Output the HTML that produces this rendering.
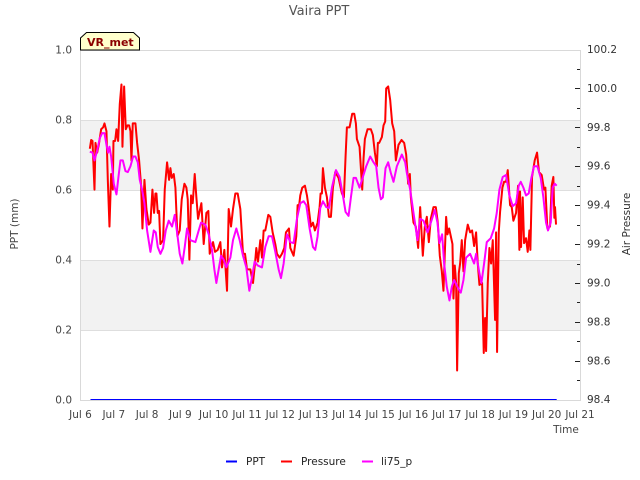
<!DOCTYPE html>
<html>
<head>
<meta charset="utf-8">
<title>Vaira PPT</title>
<style>
html,body{margin:0;padding:0;background:#fff;}
svg{display:block;}
text{font-family:"DejaVu Sans","Liberation Sans",sans-serif;}
</style>
</head>
<body>
<svg id="chart" width="640" height="480" viewBox="0 0 640 480" xmlns="http://www.w3.org/2000/svg">
<rect x="0" y="0" width="640" height="480" fill="#ffffff"/>
<text x="319" y="15" font-size="13" fill="#555555" text-anchor="middle">Vaira PPT</text>
<g id="bands"></g>
<g id="grid"></g>
<g id="axes"></g>
<g id="series"></g>
<path d="M80.5 50V38L86.5 32.5H133.5L139.5 38V50Z" fill="#ffffcc" stroke="#000000" stroke-width="1"/>
<text x="87" y="46" font-size="11" font-weight="bold" fill="#8b0000">VR_met</text>
<text x="0" y="0" transform="translate(18,224) rotate(-90)" font-size="10.5" fill="#444444" text-anchor="middle">PPT (mm)</text>
<text x="0" y="0" transform="translate(630,224) rotate(-90)" font-size="10.5" fill="#333333" text-anchor="middle">Air Pressure</text>
<text x="566" y="433" font-size="10.5" fill="#444444" text-anchor="middle">Time</text>
<g>
<line x1="226" y1="461.5" x2="237" y2="461.5" stroke="#0000ff" stroke-width="2"/>
<text x="246" y="465" font-size="10.5" fill="#222222">PPT</text>
<line x1="281" y1="461.5" x2="292" y2="461.5" stroke="#ff0000" stroke-width="2"/>
<text x="301" y="465" font-size="10.5" fill="#222222">Pressure</text>
<line x1="362" y1="461.5" x2="373" y2="461.5" stroke="#ff00ff" stroke-width="2"/>
<text x="381" y="465" font-size="10.5" fill="#222222">li75_p</text>
</g>
</svg>
<script>
const xTickLabels = ["Jul 6","Jul 7","Jul 8","Jul 9","Jul 10","Jul 11","Jul 12","Jul 13","Jul 14","Jul 15","Jul 16","Jul 17","Jul 18","Jul 19","Jul 20","Jul 21"];
const leftTicks = [0,0.2,0.4,0.6,0.8,1];
const leftTickLabels = ["0.0","0.2","0.4","0.6","0.8","1.0"];
const rightTicks = [98.4,98.6,98.8,99,99.2,99.4,99.6,99.8,100,100.2];
const rightTickLabels = ["98.4","98.6","98.8","99.0","99.2","99.4","99.6","99.8","100.0","100.2"];
const rightMinorTicks = [98.5,98.7,98.9,99.1,99.3,99.5,99.7,99.9,100.1];
const shadedBands = [[0.2,0.4],[0.6,0.8]];
const pptTimes = [0.3,14.3];
const pptValues = [0,0];
const pressureTimes = [0.28,0.32,0.36,0.42,0.45,0.5,0.55,0.62,0.68,0.72,0.78,0.82,0.87,0.92,0.97,0.99,1.04,1.08,1.13,1.18,1.23,1.26,1.31,1.36,1.41,1.46,1.5,1.53,1.57,1.65,1.7,1.76,1.82,1.86,1.92,1.98,2.05,2.1,2.16,2.21,2.25,2.28,2.32,2.36,2.4,2.48,2.53,2.6,2.66,2.7,2.74,2.8,2.85,2.91,2.98,3.04,3.12,3.18,3.22,3.27,3.32,3.37,3.43,3.48,3.53,3.58,3.63,3.7,3.78,3.84,3.88,3.98,4.04,4.12,4.2,4.25,4.32,4.4,4.45,4.52,4.58,4.65,4.72,4.8,4.88,4.94,5,5.1,5.18,5.24,5.28,5.33,5.4,5.45,5.5,5.55,5.64,5.7,5.77,5.85,5.9,5.98,6.05,6.12,6.17,6.26,6.3,6.4,6.48,6.52,6.56,6.6,6.66,6.74,6.8,6.85,6.92,6.98,7.04,7.12,7.18,7.21,7.25,7.28,7.34,7.4,7.46,7.52,7.58,7.65,7.75,7.85,7.91,7.96,8,8.08,8.16,8.22,8.27,8.3,8.38,8.46,8.5,8.54,8.62,8.72,8.78,8.84,8.9,8.93,8.97,9.05,9.1,9.15,9.18,9.24,9.3,9.36,9.42,9.47,9.55,9.64,9.72,9.78,9.84,9.89,9.92,10,10.07,10.14,10.2,10.28,10.34,10.4,10.46,10.52,10.6,10.67,10.73,10.79,10.85,10.9,10.98,11.02,11.07,11.12,11.17,11.2,11.24,11.28,11.31,11.36,11.4,11.45,11.5,11.55,11.63,11.7,11.76,11.82,11.88,11.93,11.98,12.06,12.11,12.15,12.18,12.23,12.28,12.33,12.38,12.45,12.48,12.51,12.56,12.6,12.67,12.72,12.78,12.83,12.9,12.95,13,13.08,13.14,13.18,13.2,13.23,13.28,13.32,13.38,13.43,13.48,13.51,13.56,13.64,13.71,13.77,13.85,13.92,13.96,14.02,14.1,14.15,14.2,14.23,14.25,14.28];
const pressureValues = [99.69,99.735,99.73,99.48,99.72,99.67,99.71,99.79,99.8,99.82,99.78,99.53,99.29,99.56,99.48,99.73,99.73,99.79,99.73,99.92,100.02,99.7,100.01,99.79,99.81,99.81,99.78,99.63,99.82,99.82,99.72,99.63,99.5,99.28,99.53,99.38,99.3,99.31,99.48,99.36,99.46,99.46,99.36,99.37,99.2,99.22,99.48,99.62,99.53,99.59,99.54,99.56,99.49,99.24,99.27,99.43,99.51,99.49,99.43,99.12,99.45,99.41,99.56,99.44,99.33,99.37,99.41,99.2,99.36,99.37,99.15,99.21,99.16,99.17,99.21,99.08,99.17,98.96,99.38,99.29,99.38,99.46,99.46,99.38,99.15,99.15,99.07,99.07,99,99.1,99.18,99.11,99.22,99.13,99.27,99.27,99.35,99.34,99.26,99.2,99.15,99.13,99.15,99.18,99.26,99.28,99.18,99.14,99.24,99.4,99.39,99.45,99.49,99.5,99.45,99.39,99.29,99.31,99.27,99.31,99.39,99.46,99.46,99.59,99.49,99.44,99.34,99.34,99.49,99.57,99.54,99.46,99.44,99.65,99.8,99.8,99.87,99.87,99.82,99.74,99.7,99.48,99.64,99.74,99.79,99.79,99.76,99.67,99.6,99.72,99.72,99.75,99.81,99.83,100,100.01,99.94,99.82,99.78,99.63,99.71,99.735,99.72,99.66,99.51,99.56,99.44,99.31,99.29,99.18,99.39,99.14,99.29,99.34,99.21,99.33,99.39,99.39,99.31,99.14,99.06,98.96,99.34,99.25,99.28,99.24,99.2,98.92,99.09,99,98.55,99.05,99.1,99.22,99.06,99.22,99.3,99.26,99.27,99.19,99.26,99.1,98.99,99,98.64,98.82,98.65,99,99.18,99.1,99.22,98.81,99.26,98.645,99.26,99.365,99.49,99.52,99.52,99.58,99.4,99.39,99.32,99.36,99.5,99.17,99.47,99.185,99.44,99.205,99.23,99.16,99.27,99.17,99.545,99.63,99.67,99.57,99.555,99.48,99.49,99.28,99.29,99.5,99.545,99.335,99.39,99.3];
const li75Times = [0.28,0.36,0.42,0.5,0.58,0.65,0.72,0.78,0.83,0.87,0.92,1,1.08,1.14,1.2,1.27,1.35,1.42,1.5,1.58,1.65,1.72,1.78,1.85,1.92,2,2.1,2.2,2.26,2.32,2.4,2.48,2.56,2.65,2.75,2.83,2.9,2.98,3.06,3.13,3.2,3.3,3.45,3.55,3.62,3.75,3.85,3.95,4.02,4.08,4.15,4.22,4.3,4.38,4.5,4.58,4.68,4.78,4.88,4.98,5.07,5.15,5.23,5.32,5.45,5.55,5.65,5.75,5.85,5.95,6.02,6.1,6.2,6.3,6.4,6.5,6.6,6.7,6.78,6.88,6.98,7.05,7.12,7.2,7.28,7.38,7.46,7.55,7.67,7.78,7.88,7.96,8.05,8.12,8.2,8.27,8.38,8.48,8.58,8.7,8.8,8.88,8.95,9.02,9.08,9.16,9.24,9.32,9.4,9.5,9.65,9.75,9.8,9.9,10,10.12,10.2,10.3,10.42,10.52,10.64,10.72,10.78,10.86,10.92,11,11.08,11.15,11.22,11.32,11.42,11.5,11.58,11.7,11.82,11.88,11.98,12.04,12.12,12.2,12.32,12.42,12.5,12.58,12.68,12.78,12.88,12.98,13.08,13.16,13.22,13.3,13.38,13.46,13.54,13.62,13.72,13.82,13.9,13.98,14.04,14.12,14.18,14.24,14.3];
const li75Values = [99.675,99.67,99.63,99.68,99.745,99.77,99.77,99.71,99.67,99.7,99.65,99.51,99.455,99.545,99.63,99.63,99.575,99.57,99.6,99.65,99.65,99.62,99.53,99.48,99.41,99.27,99.16,99.27,99.26,99.185,99.15,99.18,99.27,99.32,99.29,99.35,99.26,99.15,99.1,99.185,99.28,99.22,99.21,99.27,99.31,99.3,99.25,99.17,99.07,99,99.07,99.14,99.12,99.08,99.13,99.22,99.28,99.22,99.14,99.08,98.96,99.03,99.11,99.09,99.08,99.185,99.24,99.24,99.16,99.07,99.025,99.1,99.25,99.21,99.205,99.33,99.41,99.42,99.4,99.28,99.185,99.17,99.24,99.385,99.42,99.39,99.385,99.49,99.58,99.545,99.45,99.365,99.345,99.44,99.54,99.54,99.49,99.545,99.6,99.65,99.62,99.6,99.49,99.43,99.44,99.59,99.62,99.565,99.52,99.6,99.66,99.62,99.565,99.48,99.36,99.22,99.33,99.32,99.26,99.31,99.375,99.31,99.205,99.25,99.1,98.98,98.91,98.98,99.015,98.98,98.95,99.015,99.13,99.15,99.1,99.15,99.05,99,99.1,99.21,99.23,99.28,99.36,99.48,99.545,99.555,99.45,99.395,99.41,99.5,99.52,99.49,99.45,99.46,99.54,99.6,99.6,99.54,99.44,99.31,99.27,99.31,99.49,99.51,99.5];

const plotLeft = 80.5, plotRight = 580.5, plotTop = 50.5, plotBottom = 400.5;
const NS = 'http://www.w3.org/2000/svg';
function xScale(t){ return plotLeft + t * 499.5 / 15; }
function yGrid(v){ return plotBottom + (plotTop - plotBottom) * v; }
function yLeft(v){ return 399.5 - 350 * v; }
function yRight(v){ return 399.7 - 350.2 * (v - 98.4) / 1.8; }
function make(parent, tag, attrs){
  const el = document.createElementNS(NS, tag);
  for (const k in attrs) el.setAttribute(k, attrs[k]);
  parent.appendChild(el);
  return el;
}
const bands = document.getElementById('bands');
const grid = document.getElementById('grid');
const series = document.getElementById('series');
const axes = document.getElementById('axes');

shadedBands.forEach(function(b){
  const r = make(bands, 'rect', {x: plotLeft, y: yGrid(b[1]), width: plotRight - plotLeft, height: yGrid(b[0]) - yGrid(b[1]), fill: '#f2f2f2'});
  
  
});
leftTicks.forEach(function(v, i){
  const y = yGrid(v);
  const l = make(grid, 'line', {x1: plotLeft, x2: plotRight, y1: y, y2: y, stroke: '#dedede', 'stroke-width': 1});
  
  
  const t = make(axes, 'text', {x: 72, y: y + 3, 'font-size': 10.5, fill: '#444444', 'text-anchor': 'end'});
  t.textContent = leftTickLabels[i];
  
  
});
function drawSeries(name, times, values, yFn, color, width){
  const pts = times.map(function(t, i){ return xScale(t).toFixed(2) + ',' + yFn(values[i]).toFixed(2); }).join(' ');
  const p = make(series, 'polyline', {points: pts, fill: 'none', stroke: color, 'stroke-width': width, 'stroke-linejoin': 'round'});
  
  
}
drawSeries('ppt-line', pptTimes, pptValues, yLeft, '#0000ff', 1);
drawSeries('pressure-line', pressureTimes, pressureValues, yRight, '#ff0000', 2);
drawSeries('li75-p-line', li75Times, li75Values, yRight, '#ff00ff', 2);

const frame = make(axes, 'path', {d: 'M' + plotLeft + ' ' + plotTop + 'H' + plotRight + 'V' + plotBottom + 'H' + plotLeft + 'Z', fill: 'none', stroke: '#d9d9d9', 'stroke-width': 1});



xTickLabels.forEach(function(lab, i){
  const t = make(axes, 'text', {x: xScale(i), y: 418, 'font-size': 10.5, fill: '#444444', 'text-anchor': 'middle'});
  t.textContent = lab;
  
  
});
rightTicks.forEach(function(v, i){
  const y = yRight(v);
  if (i > 0 && i < rightTicks.length - 1) {
    const m = make(axes, 'line', {x1: plotRight - 5.5, x2: plotRight - 0.5, y1: Math.round(y) + 0.5, y2: Math.round(y) + 0.5, stroke: '#222222', 'stroke-width': 1});
    
    
  }
  const t = make(axes, 'text', {x: 587, y: y + 3.5, 'font-size': 10.5, fill: '#333333'});
  t.textContent = rightTickLabels[i];
  
  
});
rightMinorTicks.forEach(function(v){
  const y = yRight(v);
  const m = make(axes, 'line', {x1: plotRight - 3.5, x2: plotRight - 0.5, y1: Math.round(y) + 0.5, y2: Math.round(y) + 0.5, stroke: '#222222', 'stroke-width': 1});
  
  
});
</script>
</body>
</html>
